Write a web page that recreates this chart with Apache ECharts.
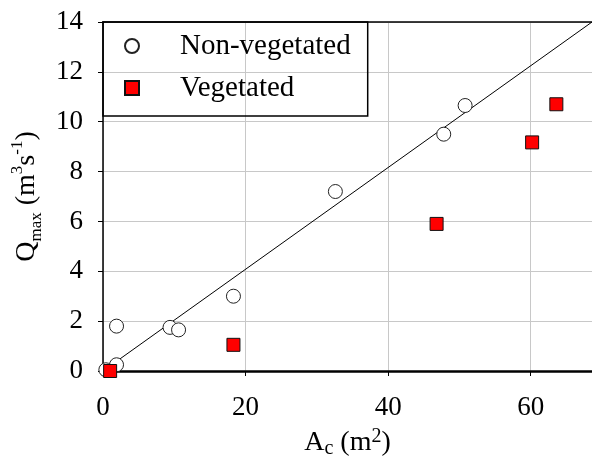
<!DOCTYPE html>
<html>
<head>
<meta charset="utf-8">
<script src="https://cdn.jsdelivr.net/npm/echarts@6/dist/echarts.min.js"></script>
<style>
html,body{margin:0;padding:0;background:#fff;}
#chart{width:592px;height:467px;}
</style>
</head>
<body>
<div id="chart"></div>
<script>
// Non-vegetated (circles)
const nonVegX = [0.4, 1.9, 1.9, 9.4, 10.6, 18.3, 32.6, 47.8, 50.8];
const nonVegY = [0.05, 0.25, 1.8, 1.75, 1.65, 3.0, 7.2, 9.5, 10.65];
// Vegetated (squares)
const vegX = [1.0, 18.3, 46.8, 60.2, 63.6];
const vegY = [0.0, 1.05, 5.9, 9.17, 10.7];
// Fitted line endpoints
const fitX = [0, 68.6];
const fitY = [0, 14];
// Axis ticks
const xTicks = [0, 20, 40, 60];
const yTicks = [0, 2, 4, 6, 8, 10, 12, 14];

const FONT = '"Liberation Serif", "Times New Roman", serif';
const zip = (a, b) => a.map((v, i) => [v, b[i]]);

const chart = echarts.init(document.getElementById('chart'), null, {renderer: 'canvas'});
chart.setOption({
  animation: false,
  backgroundColor: '#fff',
  grid: {left: 103, right: 0, top: 22, bottom: 96, containLabel: false},
  legend: {
    orient: 'vertical',
    left: 103, top: 22,
    padding: [9, 17, 13, 21],
    itemGap: 12,
    itemWidth: 14, itemHeight: 14,
    borderColor: '#000', borderWidth: 1.5,
    backgroundColor: 'transparent',
    textStyle: {fontFamily: FONT, fontSize: 29, color: '#000', lineHeight: 30, padding: [0, 0, 0, 36]},
    data: ['Non-vegetated', 'Vegetated']
  },
  xAxis: [{
    type: 'value', min: 0, max: 68.6, interval: 20,
    position: 'bottom',
    axisLine: {show: true, onZero: false, lineStyle: {color: '#000', width: 2.5}},
    axisTick: {show: true, inside: false, length: 5, lineStyle: {color: '#000', width: 1}},
    axisLabel: {fontFamily: FONT, fontSize: 27, color: '#000', margin: 23, showMaxLabel: false,
      formatter: v => xTicks.includes(v) ? String(v) : ''},
    splitLine: {show: true, lineStyle: {color: '#c8c8c8', width: 1}},
    name: '{a|A}{s|c}{a| (m}{p|2}{a|)}',
    nameLocation: 'middle', nameGap: 56,
    nameTextStyle: {
      rich: {
        a: {fontFamily: FONT, fontSize: 28, color: '#000', lineHeight: 32, verticalAlign: 'middle'},
        s: {fontFamily: FONT, fontSize: 20, color: '#000', lineHeight: 20, verticalAlign: 'bottom'},
        p: {fontFamily: FONT, fontSize: 20, color: '#000', lineHeight: 20, verticalAlign: 'top'}
      }
    }
  }, {
    type: 'value', min: 0, max: 68.6, position: 'top',
    axisLine: {show: true, onZero: false, lineStyle: {color: '#000', width: 1.5}},
    axisTick: {show: false}, axisLabel: {show: false}, splitLine: {show: false}
  }],
  yAxis: {
    type: 'value', min: 0, max: 14, interval: 2,
    axisLine: {show: true, onZero: false, lineStyle: {color: '#000', width: 1.5}},
    axisTick: {show: true, inside: false, length: 5, lineStyle: {color: '#000', width: 1}},
    axisLabel: {fontFamily: FONT, fontSize: 27, color: '#000', margin: 20,
      formatter: v => yTicks.includes(v) ? String(v) : ''},
    splitLine: {show: true, lineStyle: {color: '#c8c8c8', width: 1}},
    name: '{a|Q}{b|max}{a| (m}{c|3}{a|s}{c|-1}{a|)}',
    nameLocation: 'middle', nameGap: 55, nameRotate: 90,
    nameTextStyle: {
      rich: {
        a: {fontFamily: FONT, fontSize: 28, color: '#000', lineHeight: 36, verticalAlign: 'middle'},
        b: {fontFamily: FONT, fontSize: 17, color: '#000', lineHeight: 17, verticalAlign: 'bottom'},
        c: {fontFamily: FONT, fontSize: 17, color: '#000', lineHeight: 17, verticalAlign: 'top'}
      }
    }
  },
  series: [{
    name: 'fit', type: 'line', data: zip(fitX, fitY), showSymbol: false, symbol: 'none',
    lineStyle: {color: '#000', width: 1}, silent: true, z: 2
  }, {
    name: 'Non-vegetated', type: 'scatter', data: zip(nonVegX, nonVegY),
    symbol: 'circle', symbolSize: 14,
    itemStyle: {color: '#fff', borderColor: '#222', borderWidth: 1, opacity: 1}, z: 3
  }, {
    name: 'Vegetated', type: 'scatter', data: zip(vegX, vegY),
    symbol: 'rect', symbolSize: 13,
    itemStyle: {color: '#ff0000', borderColor: '#111', borderWidth: 1, opacity: 1}, z: 4
  }]
});
</script>
</body>
</html>
